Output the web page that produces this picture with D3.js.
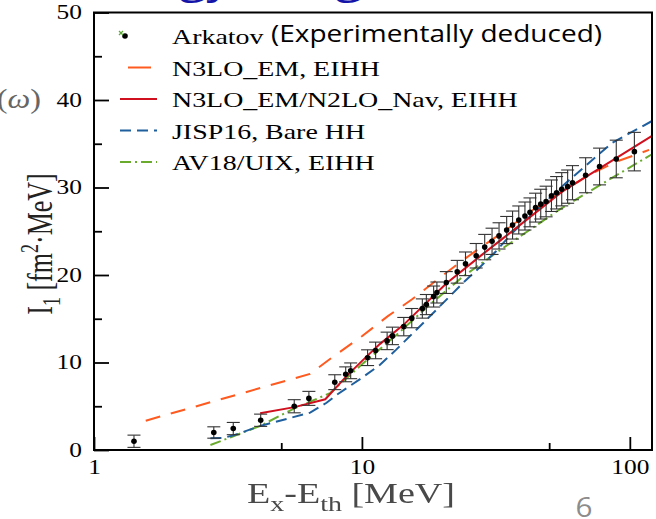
<!DOCTYPE html>
<html><head><meta charset="utf-8">
<script src="https://cdn.jsdelivr.net/npm/d3@7"></script>
<style>
html,body{margin:0;padding:0;background:#fff;}
svg{display:block;}
</style></head><body>
<svg id="chart" width="656" height="519"></svg>
<script>
// Arkatov data: energy above threshold [MeV], I1 [fm^2 MeV], uncertainty
const arkatovE = [1.41, 2.80, 3.31, 4.19, 5.59, 6.34, 7.92, 8.70, 9.08, 10.5, 11.25, 12.42, 13.0, 14.33, 15.35, 16.81, 17.4, 18.52, 19.05, 20.65, 22.69, 24.36, 26.7, 28.73, 30.6, 32.5, 34.7, 36.5, 38.5, 40.6, 42.4, 44.5, 46.5, 48.7, 51.0, 53.3, 55.7, 58.6, 61.1, 68.4, 77.1, 89.0, 104];
const arkatovI = [1.0, 2.0, 2.45, 3.4, 5.0, 5.9, 7.75, 8.65, 9.05, 10.55, 11.38, 12.47, 13.04, 14.1, 15.07, 16.17, 16.62, 17.54, 18.0, 19.14, 20.37, 21.28, 22.2, 23.19, 23.85, 24.47, 25.14, 25.71, 26.29, 26.74, 27.16, 27.7, 28.1, 28.4, 29.06, 29.4, 29.8, 30.1, 30.55, 31.4, 32.4, 33.26, 34.1];
const arkatovErr = [0.7, 0.65, 0.7, 0.7, 0.75, 0.8, 0.85, 0.85, 0.9, 0.9, 0.95, 1.0, 1.0, 1.05, 1.1, 1.1, 1.15, 1.2, 1.2, 1.25, 1.3, 1.35, 1.4, 1.45, 1.5, 1.5, 1.55, 1.6, 1.6, 1.6, 1.65, 1.65, 1.7, 1.75, 1.8, 1.85, 1.9, 1.9, 1.95, 2.0, 2.1, 2.15, 2.2];

// Theory curves
const n3loE = [1.56, 6.4, 7.6, 10, 12.5, 15.35, 19, 23.1, 28.2, 34, 43.3, 70, 90, 118];
const n3loI = [3.35, 8.7, 10.4, 13.0, 15.3, 17.2, 19.4, 21.4, 23.3, 25.0, 27.4, 31.4, 33.0, 34.3];

const navE = [4.17, 5.6, 7.3, 8.78, 10.4, 11.66, 14.3, 20.6, 27.5, 36.7, 55.7, 121];
const navI = [4.2, 4.9, 5.8, 8.47, 10.67, 12.1, 14.3, 19.0, 22.1, 25.1, 29.5, 35.9];

const jispE = [2.72, 3.0, 3.3, 4.17, 6.41, 7.38, 8.05, 9.84, 11.66, 13.4, 17.9, 23.8, 27.5, 31.6, 36.4, 55.7, 85.8, 121];
const jispI = [1.34, 1.36, 1.65, 2.75, 4.27, 5.4, 6.3, 8.1, 9.72, 11.44, 15.25, 19.07, 20.86, 22.69, 24.8, 30.1, 35.1, 37.6];

const av18E = [2.72, 4.17, 5.55, 7.6, 10.1, 13.4, 17.9, 23.8, 31.6, 36.4, 55.7, 85.8, 121];
const av18I = [0.57, 2.75, 4.7, 6.5, 9.9, 13.1, 16.6, 19.8, 22.5, 23.8, 27.65, 31.1, 33.8];

const xTicksMajor = [1, 10, 100];
const xTicksMinor = [5, 50];
const yTicksMajor = [0, 10, 20, 30, 40, 50];
const yTicksMinor = [5, 15, 25, 35, 45];

const legendLabels = ["Arkatov", "N3LO_EM, EIHH", "N3LO_EM/N2LO_Nav, EIHH", "JISP16, Bare HH", "AV18/UIX, EIHH"];

const SX = 1.27; // horizontal text widening
const serif = "'Liberation Serif','Times New Roman',serif";
const sans = "'Open Sans','Noto Sans',sans-serif";

const svg = d3.select("#chart");
const plotL = 94, plotR = 652, plotT = 12.5, plotB = 450;

const x = d3.scaleLog().domain([1, 121]).range([plotL, plotR]);
const y = d3.scaleLinear().domain([0, 50]).range([plotB, plotT]);

// Curves
const series = [
  {E: n3loE, I: n3loI, color: "#ff5a1f", dash: "15,11"},
  {E: av18E, I: av18I, color: "#6aab2e", dash: "11,4,2,4"},
  {E: jispE, I: jispI, color: "#1f5f9e", dash: "11,6"},
  {E: navE, I: navI, color: "#d0101e", dash: null}
];
const line = d3.line().x(d => x(d[0])).y(d => y(d[1]));
series.forEach(s => {
  svg.append("path")
    .datum(s.E.map((e, i) => [e, s.I[i]]))
    .attr("d", line)
    .attr("fill", "none")
    .attr("stroke", s.color)
    .attr("stroke-width", 2)
    .attr("stroke-dasharray", s.dash);
});

// Data points with error bars
const pts = arkatovE.map((e, i) => ({e, v: arkatovI[i], err: arkatovErr[i]}));
const eb = svg.append("g").selectAll("g").data(pts).enter().append("g");
eb.append("line")
  .attr("x1", d => x(d.e)).attr("x2", d => x(d.e))
  .attr("y1", d => y(d.v - d.err)).attr("y2", d => y(d.v + d.err))
  .attr("stroke", "#333").attr("stroke-width", 1.1);
[-1, 1].forEach(sgn => {
  eb.append("line")
    .attr("x1", d => x(d.e) - 6.5).attr("x2", d => x(d.e) + 6.5)
    .attr("y1", d => y(d.v + sgn * d.err)).attr("y2", d => y(d.v + sgn * d.err))
    .attr("stroke", "#333").attr("stroke-width", 1.1);
});
eb.append("circle")
  .attr("cx", d => x(d.e)).attr("cy", d => y(d.v)).attr("r", 2.8)
  .attr("fill", "#000");

// Axes
function styleTicks(sel) {
  sel.select(".domain").remove();
  sel.selectAll("line").attr("stroke", "#000").attr("stroke-width", 1.8);
  sel.selectAll("text")
    .attr("font-family", serif).attr("font-size", 20).attr("fill", "#000");
}
const yAxis = svg.append("g").attr("transform", `translate(${plotL},0)`)
  .call(d3.axisLeft(y).tickValues(yTicksMajor).tickFormat(d3.format("d")).tickSizeInner(-15).tickSizeOuter(0).tickPadding(12));
styleTicks(yAxis);
yAxis.selectAll("text").attr("x", -12 / SX).attr("transform", `scale(${SX},1)`);

const yMinor = svg.append("g").attr("transform", `translate(${plotL},0)`)
  .call(d3.axisLeft(y).tickValues(yTicksMinor).tickFormat("").tickSizeInner(-8).tickSizeOuter(0));
styleTicks(yMinor);

const xAxis = svg.append("g").attr("transform", `translate(0,${plotB})`)
  .call(d3.axisBottom(x).tickValues(xTicksMajor).tickFormat(d3.format("d")).tickSizeInner(-13).tickSizeOuter(0).tickPadding(10));
styleTicks(xAxis);
xAxis.selectAll("text").attr("transform", `scale(${SX},1)`);

const xMinor = svg.append("g").attr("transform", `translate(0,${plotB})`)
  .call(d3.axisBottom(x).tickValues(xTicksMinor).tickFormat("").tickSizeInner(-7).tickSizeOuter(0));
styleTicks(xMinor);

// Frame
svg.append("rect")
  .attr("x", plotL).attr("y", plotT).attr("width", plotR - plotL).attr("height", plotB - plotT)
  .attr("fill", "none").attr("stroke", "#000").attr("stroke-width", 2);

// Legend
const legY = [36, 67.5, 99, 130.5, 162];
const lg = svg.append("g");
lg.append("circle").attr("cx", 125).attr("cy", legY[0]).attr("r", 2.8).attr("fill", "#000");
lg.append("path").attr("d", "M119,31 L123,35 M119,35 L123,31").attr("stroke", "#5fa83a").attr("stroke-width", 1.2);
const legSeries = [series[0], series[3], series[2], series[1]];
legSeries.forEach((s, i) => {
  const yy = legY[i + 1];
  const x0 = i === 0 ? 128 : 120, x1 = i === 0 ? 151 : 157;
  lg.append("line").attr("x1", x0).attr("x2", x1).attr("y1", yy).attr("y2", yy)
    .attr("stroke", s.color).attr("stroke-width", 2)
    .attr("stroke-dasharray", i === 0 ? null : s.dash);
});
legendLabels.forEach((t, i) => {
  lg.append("text")
    .attr("transform", `translate(172,${legY[i] + 8}) scale(${SX},1)`)
    .attr("font-family", serif).attr("font-size", 22).attr("fill", "#000")
    .text(t);
});
lg.append("text")
  .attr("x", 271).attr("y", 42)
  .attr("font-family", sans).attr("font-size", 24)
  .attr("textLength", 331).attr("lengthAdjust", "spacingAndGlyphs")
  .attr("fill", "#000")
  .text("(Experimentally deduced)");

// Axis titles
const yl = svg.append("text")
  .attr("transform", `translate(52,244) scale(1.4,1) rotate(-90)`)
  .attr("text-anchor", "middle")
  .attr("font-family", serif).attr("font-size", 26).attr("fill", "#222");
yl.append("tspan").text("I");
yl.append("tspan").attr("font-size", 18).attr("dy", 6).text("1");
yl.append("tspan").attr("dy", -6).text(" [fm");
yl.append("tspan").attr("font-size", 18).attr("dy", -10).text("2");
yl.append("tspan").attr("dy", 10).text("·MeV]");

const defs = svg.append("defs");
defs.append("filter").attr("id", "soft").append("feGaussianBlur").attr("stdDeviation", 0.6);

const xl = svg.append("text")
  .attr("transform", `translate(351,503) scale(${SX},1)`)
  .attr("text-anchor", "middle")
  .attr("font-family", serif).attr("font-size", 30).attr("fill", "#4a4a4a")
  .attr("filter", "url(#soft)");
xl.append("tspan").text("E");
xl.append("tspan").attr("font-size", 22).attr("dy", 8).text("x");
xl.append("tspan").attr("dy", -8).text("-E");
xl.append("tspan").attr("font-size", 22).attr("dy", 8).text("th");
xl.append("tspan").attr("dy", -8).text(" [MeV]");

// Surrounding slide fragments
const om = svg.append("text")
  .attr("transform", `translate(41,108) scale(1.15,1)`)
  .attr("text-anchor", "end")
  .attr("font-family", serif).attr("font-size", 28).attr("fill", "#666");
om.append("tspan").text("(");
om.append("tspan").attr("font-style", "italic").text("ω");
om.append("tspan").text(")");

svg.append("text")
  .attr("transform", `translate(584,517) scale(1.1,1)`)
  .attr("text-anchor", "middle")
  .attr("font-family", sans).attr("font-size", 27).attr("fill", "#8c8c8c")
  .text("6");

svg.append("text")
  .attr("transform", `translate(232,-7) scale(${SX},1)`)
  .attr("text-anchor", "end")
  .attr("font-family", sans).attr("font-size", 40).attr("fill", "#1414a8")
  .text("Energy");
const t2 = svg.append("text")
  .attr("font-family", sans).attr("font-size", 40).attr("fill", "#1414a8")
  .text("weighted");
const off = t2.node().getSubStringLength(0, 3);
t2.attr("transform", `translate(${335 - off * SX},-7) scale(${SX},1)`);
</script>
</body></html>
